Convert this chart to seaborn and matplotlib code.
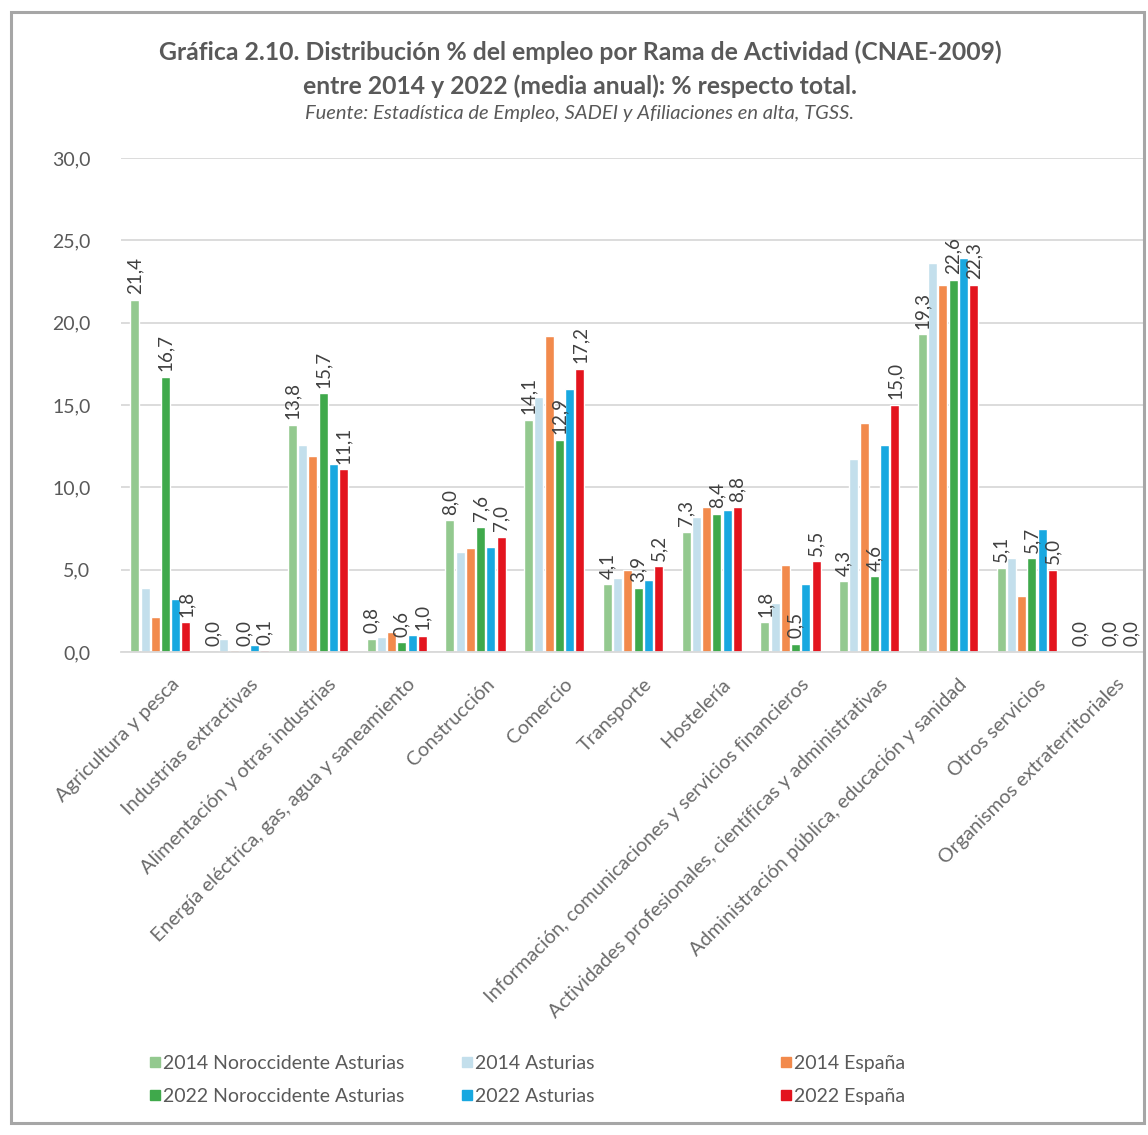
import numpy as np
import pandas as pd
import seaborn as sns
import matplotlib.pyplot as plt
from matplotlib.patches import Rectangle
from matplotlib.lines import Line2D
import matplotlib.transforms as mtransforms

categories = [
    "Agricultura y pesca",
    "Industrias extractivas",
    "Alimentación y otras industrias",
    "Energía eléctrica, gas, agua y saneamiento",
    "Construcción",
    "Comercio",
    "Transporte",
    "Hostelería",
    "Información, comunicaciones y servicios financieros",
    "Actividades profesionales, científicas y administrativas",
    "Administración pública, educación y sanidad",
    "Otros servicios",
    "Organismos extraterritoriales",
]
series_names = [
    "2014 Noroccidente Asturias",
    "2014 Asturias",
    "2014 España",
    "2022 Noroccidente Asturias",
    "2022 Asturias",
    "2022 España",
]
noroc_2014 = [21.4, 0.0, 13.8, 0.8, 8.0, 14.1, 4.1, 7.3, 1.8, 4.3, 19.3, 5.1, 0.0]
asturias_2014 = [3.9, 0.8, 12.6, 0.9, 6.1, 15.5, 4.5, 8.2, 3.0, 11.7, 23.6, 5.7, 0.0]
espana_2014 = [2.1, 0.1, 11.9, 1.2, 6.3, 19.2, 5.0, 8.8, 5.3, 13.9, 22.3, 3.4, 0.0]
noroc_2022 = [16.7, 0.0, 15.7, 0.6, 7.6, 12.9, 3.9, 8.4, 0.5, 4.6, 22.6, 5.7, 0.0]
asturias_2022 = [3.2, 0.4, 11.4, 1.05, 6.4, 16.0, 4.4, 8.6, 4.1, 12.6, 23.9, 7.5, 0.0]
espana_2022 = [1.8, 0.1, 11.1, 1.0, 7.0, 17.2, 5.2, 8.8, 5.5, 15.0, 22.3, 5.0, 0.0]
labelled_series = ["2014 Noroccidente Asturias", "2022 Noroccidente Asturias", "2022 España"]
colors = ["#93C98F", "#C3DFEC", "#F28A4C", "#3FA94B", "#18A8E0", "#E3141E"]
yticks = [0, 5, 10, 15, 20, 25, 30]

all_values = [noroc_2014, asturias_2014, espana_2014, noroc_2022, asturias_2022, espana_2022]
rows = []
for name, vals in zip(series_names, all_values):
    for cat, v in zip(categories, vals):
        rows.append({"Rama": cat, "Serie": name, "Valor": v})
df = pd.DataFrame(rows)

sns.set_theme(style="white")
plt.rcParams["font.family"] = ["Lato", "DejaVu Sans"]

W, H = 1148, 1135
fig = plt.figure(figsize=(W / 100, H / 100), dpi=100)
fig.patch.set_facecolor("white")

# outer frame
fig.patches.append(Rectangle((11 / W, 1 - 1123 / H), (1144 - 11) / W, (1123 - 12) / H,
                             transform=fig.transFigure, fill=False,
                             edgecolor="#A6A6A6", linewidth=2.2, zorder=0))

left, right, top, bottom = 121, 1145, 158, 652
ax = fig.add_axes([left / W, 1 - bottom / H, (right - left) / W, (bottom - top) / H])

sns.barplot(data=df, x="Rama", y="Valor", hue="Serie", hue_order=series_names,
            order=categories, palette=colors, width=0.78, gap=0.12,
            saturation=1, legend=False, ax=ax, errorbar=None)

ax.set_ylim(0, 30)
ax.set_xlim(-0.5, len(categories) - 0.5)
ax.set_yticks(yticks)
ax.set_yticklabels([f"{t:.1f}".replace(".", ",") for t in yticks],
                   fontsize=14, color="#595959")
ax.yaxis.grid(True, color="#D9D9D9", linewidth=1.3)
ax.set_axisbelow(True)
for s in ["top", "right", "left"]:
    ax.spines[s].set_visible(False)
ax.spines["bottom"].set_color("#D9D9D9")
ax.spines["bottom"].set_linewidth(1.3)
ax.tick_params(axis="y", length=0, pad=22)
ax.tick_params(axis="x", length=0, pad=17)
ax.set_xlabel("")
ax.set_ylabel("")

ax.set_xticks(range(len(categories)))
ax.set_xticklabels(categories, rotation=45, ha="right", rotation_mode="anchor",
                   fontsize=14.3, color="#6B6B6B")
off = mtransforms.ScaledTranslation(10 / 100, 0, fig.dpi_scale_trans)
for lab in ax.get_xticklabels():
    lab.set_transform(lab.get_transform() + off)

for name, cont in zip(series_names, ax.containers):
    if name in labelled_series:
        vals = all_values[series_names.index(name)]
        ax.bar_label(cont, labels=[f"{v:.1f}".replace(".", ",") for v in vals],
                     rotation=90, padding=4, fontsize=13.5, color="#404040")

fig.text(580 / W, 1 - 52 / H,
         "Gráfica 2.10. Distribución % del empleo por Rama de Actividad (CNAE-2009)",
         ha="center", va="center", fontsize=17.8, fontweight="bold", color="#595959")
fig.text(580 / W, 1 - 86 / H,
         "entre 2014 y 2022 (media anual): % respecto total.",
         ha="center", va="center", fontsize=17.8, fontweight="bold", color="#595959")
fig.text(580 / W, 1 - 113 / H,
         "Fuente: Estadística de Empleo, SADEI y Afiliaciones en alta, TGSS.",
         ha="center", va="center", fontsize=14.5, style="italic", color="#595959")

handles = [Line2D([], [], marker="s", linestyle="none", markersize=7,
                  markerfacecolor=c, markeredgecolor=c) for c in colors]
col_x = [148, 460, 779]
for j in range(3):
    idx = [j, j + 3]
    lg = fig.legend([handles[i] for i in idx], [series_names[i] for i in idx],
                    ncol=1, loc="center left", bbox_to_anchor=(col_x[j] / W, 1 - 1080 / H),
                    frameon=False, fontsize=14, labelcolor="#595959",
                    handletextpad=0.05, labelspacing=0.85, handlelength=0.7,
                    borderpad=0, borderaxespad=0)

fig.savefig("out.png", dpi=100, facecolor="white")
